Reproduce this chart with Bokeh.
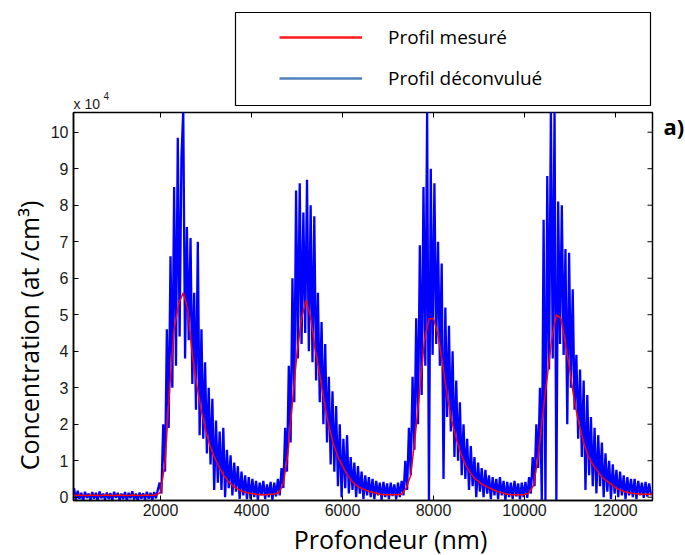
import numpy as np
from bokeh.plotting import figure
from bokeh.layouts import column, row
from bokeh.models import (Range1d, FixedTicker, Legend, LegendItem, Label, BoxAnnotation)
from bokeh.embed import file_html
from bokeh.resources import INLINE

# ---------------- data (concentration in units of 1e4 at/cm3) ----------------
# measured profile, sampled every 100 nm starting at 100 nm
red_start = 100
red_step = 100
red_measured = [
    0.05, 0.06, 0.05, 0.05, 0.06, 0.05, 0.05, 0.06, 0.05,              # 100-900
    0.05, 0.06, 0.05, 0.05, 0.06, 0.05, 0.05, 0.06, 0.05, 0.06,        # 1000-1900
    0.13, 0.95, 2.95, 4.6, 5.3, 5.6, 5.15, 3.9, 3.05, 2.35,            # 2000-2900
    1.8, 1.36, 1.05, 0.8, 0.58, 0.42, 0.3, 0.22, 0.16, 0.12,           # 3000-3900
    0.1, 0.08, 0.07, 0.07, 0.08, 0.09, 0.12, 0.37, 1.2, 2.6,           # 4000-4900
    3.95, 4.9, 5.4, 4.93, 4.05, 3.35, 2.6, 1.95, 1.46, 1.1,            # 5000-5900
    0.85, 0.62, 0.45, 0.33, 0.25, 0.2, 0.15, 0.12, 0.09, 0.07,         # 6000-6900
    0.07, 0.07, 0.07, 0.08, 0.25, 0.6, 1.7, 2.95, 4.3, 4.88,           # 7000-7900
    4.9, 4.45, 3.65, 2.8, 2.1, 1.6, 1.2, 0.9, 0.68, 0.52,              # 8000-8900
    0.42, 0.33, 0.27, 0.21, 0.16, 0.12, 0.09, 0.07, 0.07, 0.07,        # 9000-9900
    0.07, 0.12, 0.33, 1.1, 2.25, 3.3, 4.35, 5.0, 4.9, 4.2,             # 10000-10900
    3.45, 2.6, 2.0, 1.5, 1.12, 0.9, 0.73, 0.55, 0.45, 0.36,            # 11000-11900
    0.26, 0.2, 0.15, 0.12, 0.1, 0.09, 0.08, 0.08, 0.08,                # 12000-12800
]

# deconvolved profile, sampled every 40 nm, stored as segments (start depth, values)
blue_step = 40
blue_base0 = [  # 100 - 1940
    0.25, -0.08, 0.18, -0.05, 0.12, -0.1, 0.15, -0.02, 0.1, -0.08,
    0.14, -0.04, 0.12, -0.1, 0.16, -0.03, 0.1, -0.07, 0.13, -0.05,
    0.11, -0.09, 0.15, -0.02, 0.12, -0.08, 0.1, -0.05, 0.14, -0.1,
    0.12, -0.03, 0.16, -0.06, 0.1, -0.09, 0.13, -0.04, 0.11, -0.07,
    0.15, -0.05, 0.12, -0.08, 0.14, -0.03, 0.2,
]
blue_peak1 = [  # 1980 - 3940
    0.4, 0.1, 2.0, 0.7, 4.6, 1.9, 6.6, 3.0, 8.5, 3.6,
    9.85, 4.4, 9.3, 10.6, 3.8, 7.4, 4.3, 7.1, 3.1, 5.6,
    2.4, 7.0, 1.7, 4.6, 1.6, 3.7, 1.2, 3.0, 0.9, 2.7,
    0.2, 2.1, 0.4, 1.8, 0.2, 1.9, 0.0, 1.3, 0.25, 1.15,
    0.05, 0.95, 0.15, 0.85, -0.05, 0.7, 0.05, 0.6, -0.05, 0.55,
]
blue_trough1 = [  # 3980 - 4620
    -0.05, 0.5, 0.0, 0.45, -0.08, 0.4, 0.05, 0.45, -0.05, 0.35,
    0.0, 0.42, -0.08, 0.4, 0.02, 0.5, 0.05,
]
blue_peak2 = [  # 4660 - 6620
    0.8, 0.25, 1.9, 0.7, 3.6, 1.5, 6.0, 2.6, 8.4, 3.8,
    8.6, 4.2, 7.8, 4.5, 8.7, 4.0, 8.0, 3.7, 7.7, 3.2,
    5.6, 2.6, 4.8, 2.0, 4.2, 1.5, 3.3, 0.9, 2.9, 0.7,
    2.5, 0.3, 2.0, 0.0, 1.6, 0.25, 1.7, 0.1, 1.1, 0.2,
    0.95, 0.0, 0.85, 0.1, 0.7, -0.05, 0.6, 0.05, 0.55, 0.0,
]
blue_trough2 = [  # 6660 - 7300
    0.5, -0.05, 0.45, 0.05, 0.4, -0.08, 0.42, 0.0, 0.38, -0.05,
    0.4, 0.03, 0.35, -0.06, 0.4, 0.0, 0.45,
]
blue_peak3 = [  # 7340 - 9300
    0.05, 1.0, 0.2, 1.9, 0.6, 3.3, 1.3, 4.9, 2.0, 6.9,
    2.8, 8.5, 3.6, 10.6, -0.1, 9.0, 3.9, 8.6, 4.2, 7.0,
    3.6, 6.4, 0.5, 5.2, 2.2, 4.7, 1.8, 4.0, 1.1, 3.2,
    1.0, 2.6, 0.6, 2.0, 0.5, 1.6, 0.2, 1.4, 0.3, 1.1,
    0.0, 0.95, 0.15, 0.8, 0.0, 0.75, 0.1, 0.6, -0.05, 0.55,
]
blue_trough3 = [  # 9340 - 10060
    0.05, 0.5, -0.05, 0.55, 0.05, 0.45, -0.08, 0.42, 0.0, 0.4,
    -0.05, 0.45, 0.02, 0.38, -0.06, 0.4, 0.0, 0.42, -0.02,
]
blue_peak4 = [  # 10100 - 12780
    0.55, 0.1, 1.1, 0.3, 2.0, 0.8, 3.0, -0.1, 7.6, -0.1,
    8.8, 3.5, 10.6, 3.8, 10.6, -0.1, 8.1, 4.2, 8.0, 3.9,
    6.8, 2.0, 6.7, 3.0, 5.7, 2.4, 3.9, 1.6, 3.5, 1.1,
    3.2, 0.2, 2.8, 0.6, 2.2, 0.3, 1.9, 0.1, 1.7, 0.3,
    1.5, 0.0, 1.2, 0.15, 1.0, -0.05, 0.9, 0.1, 0.75, 0.0,
    0.7, 0.05, 0.6, -0.05, 0.55, 0.05, 0.5, 0.0, 0.5, -0.05,
    0.45, 0.05, 0.4, -0.02, 0.42, 0.02, 0.38, 0.05,
]
blue_segments = [
    (100, blue_base0), (1980, blue_peak1), (3980, blue_trough1), (4660, blue_peak2),
    (6660, blue_trough2), (7340, blue_peak3), (9340, blue_trough3), (10100, blue_peak4),
]

x_ticks = [2000, 4000, 6000, 8000, 10000, 12000]
y_ticks = [0, 1, 2, 3, 4, 5, 6, 7, 8, 9, 10]
X_MIN, X_MAX = 88, 12813
Y_MIN, Y_MAX = -0.09, 10.54

# ---------------- assemble series ----------------
red_x = [red_start + red_step * i for i in range(len(red_measured))]
blue_x, blue_y = [], []
for start, vals in blue_segments:
    for i, v in enumerate(vals):
        blue_x.append(start + blue_step * i)
        blue_y.append(v)

# ---------------- layout geometry (pixels) ----------------
W = 685
TOP_H, MID_H, BOT_H = 110, 411, 34
LEFT_W, RIGHT_W = 45, 31
MAIN_W = W - LEFT_W - RIGHT_W          # 609
FRAME_W, FRAME_H = 579, 388
TICK_LEN = 5


def blank(width, height):
    f = figure(width=width, height=height, output_backend="svg", toolbar_location=None,
               x_range=Range1d(0, 1), y_range=Range1d(0, 1),
               x_axis_location=None, y_axis_location=None,
               min_border_left=0, min_border_right=0, min_border_top=0, min_border_bottom=0)
    f.grid.visible = False
    f.outline_line_color = None
    f.background_fill_color = "white"
    f.border_fill_color = "white"
    return f


# ---------------- main plot ----------------
p = figure(width=MAIN_W, height=MID_H, output_backend="svg", toolbar_location=None,
           x_range=Range1d(X_MIN, X_MAX), y_range=Range1d(Y_MIN, Y_MAX),
           min_border_left=28, min_border_right=2, min_border_top=2,
           min_border_bottom=MID_H - 2 - FRAME_H)
p.grid.visible = False
p.outline_line_color = "black"
p.outline_line_width = 1.5
p.background_fill_color = "white"
p.border_fill_color = "white"

p.line(blue_x, blue_y, line_color="#0000ff", line_width=2.3)
p.line(red_x, red_measured, line_color="#ff0000", line_width=1.5)

# mirrored inward ticks on the top and right edges of the frame
dy_tick = TICK_LEN * (Y_MAX - Y_MIN) / FRAME_H
dx_tick = TICK_LEN * (X_MAX - X_MIN) / FRAME_W
p.segment(x0=x_ticks, y0=[Y_MAX] * len(x_ticks), x1=x_ticks, y1=[Y_MAX - dy_tick] * len(x_ticks),
          line_color="black", line_width=1)
p.segment(x0=[X_MAX] * len(y_ticks), y0=y_ticks, x1=[X_MAX - dx_tick] * len(y_ticks), y1=y_ticks,
          line_color="black", line_width=1)

for ax, ticks in ((p.xaxis[0], x_ticks), (p.yaxis[0], y_ticks)):
    ax.ticker = FixedTicker(ticks=ticks, minor_ticks=[])
    ax.major_tick_in = TICK_LEN
    ax.major_tick_out = 0
    ax.minor_tick_in = 0
    ax.minor_tick_out = 0
    ax.axis_line_color = "black"
    ax.axis_line_width = 1.5
    ax.major_tick_line_color = "black"
    ax.major_tick_line_width = 1
    ax.major_label_text_font = "Liberation Sans"
    ax.major_label_text_font_size = "16px"
    ax.major_label_text_color = "#1a1a1a"
    ax.major_label_standoff = 5
p.xaxis[0].major_label_standoff = 3

# ---------------- top strip: legend and multiplier ----------------
top = blank(W, TOP_H)
red_proxy = top.line(x=[float("nan")], y=[float("nan")], line_color="#ff1a1a", line_width=2.5)
blue_proxy = top.line(x=[float("nan")], y=[float("nan")], line_color="#4f81bd", line_width=2.5)
top.add_layout(BoxAnnotation(left=235, right=650, bottom=5, top=98,
                             left_units="screen", right_units="screen",
                             bottom_units="screen", top_units="screen",
                             fill_color=None, fill_alpha=0, line_color="black",
                             line_width=1.2, line_alpha=1))
legend = Legend(items=[LegendItem(label="Profil mesuré", renderers=[red_proxy]),
                       LegendItem(label="Profil déconvulué", renderers=[blue_proxy])],
                location=(279, 19), orientation="vertical",
                glyph_width=83, glyph_height=26, label_height=26, spacing=15,
                label_standoff=26, padding=0, margin=0,
                border_line_alpha=0, background_fill_alpha=0,
                label_text_font="Open Sans", label_text_font_size="19px",
                label_text_color="black")
top.add_layout(legend)
top.add_layout(Label(x=73, y=7, x_units="screen", y_units="screen", text="x 10",
                     text_font="Liberation Sans", text_font_size="14px", text_color="#1a1a1a",
                     text_align="left", text_baseline="alphabetic"))
top.add_layout(Label(x=103, y=15, x_units="screen", y_units="screen", text="4",
                     text_font="Liberation Sans", text_font_size="10px", text_color="#1a1a1a",
                     text_align="left", text_baseline="alphabetic"))

# ---------------- left strip: y title (frame aligned with the main frame) ----------------
left = blank(LEFT_W, MID_H)
left.add_layout(Label(x=28, y=165, x_units="screen", y_units="screen", angle=np.pi / 2,
                      text="Concentration (at /cm³)", text_font="Open Sans",
                      text_font_size="25px", text_color="black",
                      text_align="center", text_baseline="middle"))

# ---------------- right strip: panel tag (frame aligned with the main frame) ----------------
right = blank(RIGHT_W, MID_H)
right.add_layout(Label(x=9, y=375, x_units="screen", y_units="screen", text="a)",
                       text_font="Open Sans", text_font_size="22px", text_font_style="bold",
                       text_color="black", text_align="left", text_baseline="middle"))

# ---------------- bottom strip: x title ----------------
bottom = blank(W, BOT_H)
bottom.add_layout(Label(x=390, y=17, x_units="screen", y_units="screen", text="Profondeur (nm)",
                        text_font="Open Sans", text_font_size="25px", text_color="black",
                        text_align="center", text_baseline="middle"))

layout = column(top, row(left, p, right, spacing=0), bottom, spacing=0)

open("out.html", "w").write(file_html(layout, INLINE))
